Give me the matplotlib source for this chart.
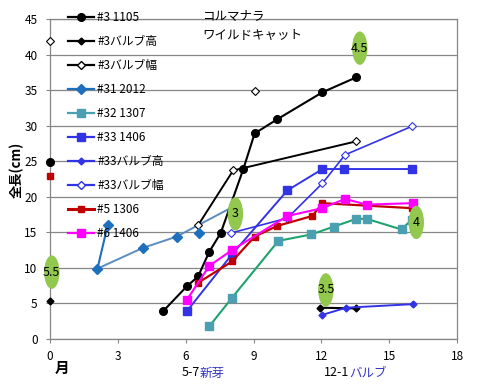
import matplotlib
matplotlib.use('Agg')
import matplotlib.pyplot as plt
from matplotlib.patches import Ellipse
from matplotlib.lines import Line2D
import numpy as np

plt.rcParams['font.family'] = ['Noto Sans CJK JP', 'DejaVu Sans']
plt.rcParams['font.size'] = 8.5

nan = np.nan

# 系列データ (月, 全長cm)
s3_1105_x = [0, nan, 5.0, 6.05, 6.55, 7.05, 7.55, 8.55, 9.05, 10.05, 12.05, 13.55]
s3_1105_y = [24.9, nan, 3.9, 7.4, 8.8, 12.3, 14.9, 23.9, 28.9, 30.9, 34.7, 36.8]

s3_bulb_h_x = [0, nan, 11.95, 13.55]
s3_bulb_h_y = [5.4, nan, 4.4, 4.3]

s3_bulb_w_x = [0, nan, 6.55, 8.1, 13.55, nan, 9.05]
s3_bulb_w_y = [41.9, nan, 16.0, 23.7, 27.8, nan, 34.9]

s31_x = [2.55, 2.1, nan, 4.1, nan, 5.6, nan, 6.6]
s31_y = [16.0, 9.9, nan, 12.8, nan, 14.4, nan, 14.9]
s31_trend_x = [2.1, 4.1, 5.6, 6.55, 8.1]
s31_trend_y = [9.9, 12.8, 14.4, 16.0, 18.6]

s32_x = [7.05, 8.05, 10.1, 11.55, 12.55, 13.55, 14.0, 15.55, 16.0]
s32_y = [1.8, 5.8, 13.8, 14.7, 15.8, 16.9, 16.9, 15.4, 16.8]

s33_1406_x = [6.05, 8.05, 10.5, 12.05, 13.0, 16.0]
s33_1406_y = [3.9, 11.9, 20.9, 23.9, 23.9, 23.9]

s33_bulb_h_x = [12.05, 13.1, 16.05]
s33_bulb_h_y = [3.4, 4.4, 4.9]

s33_bulb_w_x = [8.0, 10.5, 12.05, 13.05, 16.0]
s33_bulb_w_y = [14.9, 17.0, 21.9, 25.9, 29.9]

s5_x = [0, nan, 6.55, 8.05, 9.05, 10.05, 11.6, 12.05, 16.0]
s5_y = [22.9, nan, 7.9, 10.9, 14.4, 15.9, 17.3, 19.1, 18.4]

s6_x = [6.05, 7.05, 8.05, 10.5, 12.05, 13.05, 14.0, 16.05]
s6_y = [5.5, 10.3, 12.5, 17.3, 18.4, 19.7, 18.9, 19.1]

# 注記 (緑の楕円)
note_x = [0.08, 8.2, 13.7, 16.2, 12.2]
note_y = [9.4, 17.6, 40.9, 16.4, 6.9]
note_text = ['5.5', '3', '4.5', '4', '3.5']

x_ticks = [0, 3, 6, 9, 12, 15, 18]
y_ticks = [0, 5, 10, 15, 20, 25, 30, 35, 40, 45]

BLUE = '#3333e6'
fig = plt.figure(figsize=(4.78, 3.91), dpi=100)
ax = fig.add_axes([50 / 478, 52 / 391, 407 / 478, 320 / 391])

common = dict(clip_on=False, zorder=3)
ax.plot(s31_trend_x, s31_trend_y, color='#5b8cc0', lw=1.4, clip_on=False, zorder=2)
ax.plot(s3_1105_x, s3_1105_y, color='black', lw=1.5, marker='o', ms=5.5, **common)
ax.plot(s3_bulb_h_x, s3_bulb_h_y, color='black', lw=1.5, marker='D', ms=3.5, **common)
ax.plot(s3_bulb_w_x, s3_bulb_w_y, color='black', lw=1.4, marker='D', ms=4,
        mfc='white', mec='black', mew=0.8, **common)
ax.plot(s31_x, s31_y, color='#1f6fbf', lw=1.5, marker='D', ms=5, **common)
ax.plot(s32_x, s32_y, color='#1fa36e', lw=1.5, marker='s', ms=6,
        mfc='#4a9fb0', mec='#4a9fb0', **common)
ax.plot(s33_1406_x, s33_1406_y, color=BLUE, lw=1.4, marker='s', ms=6, **common)
ax.plot(s33_bulb_h_x, s33_bulb_h_y, color=BLUE, lw=1.4, marker='D', ms=3.5, **common)
ax.plot(s33_bulb_w_x, s33_bulb_w_y, color=BLUE, lw=1.2, marker='D', ms=4,
        mfc='white', mec=BLUE, mew=0.8, **common)
ax.plot(s5_x, s5_y, color='#c00000', lw=1.6, marker='s', ms=5, **common)
ax.plot(s6_x, s6_y, color='#ff00ff', lw=1.5, marker='s', ms=6, **common)

for x, y, t in zip(note_x, note_y, note_text):
    ax.add_patch(Ellipse((x, y), 0.68, 4.7, facecolor='#92c84e', edgecolor='none',
                         zorder=4, clip_on=False))
    ax.text(x, y, t, ha='center', va='center', fontsize=9, zorder=5)

ax.set_xlim(0, 18)
ax.set_ylim(0, 45)
ax.set_xticks(x_ticks)
ax.set_yticks(y_ticks)
ax.grid(axis='y', color='#868686', lw=0.9)
ax.set_axisbelow(True)
for sp in ax.spines.values():
    sp.set_color('#868686')
    sp.set_linewidth(0.9)
ax.tick_params(axis='both', colors='#868686', labelcolor='black', length=3,
               labelsize=8.5)
ax.tick_params(axis='x', pad=5)
ax.tick_params(axis='y', pad=6)

# 凡例
legend_items = [
    ('#3 1105', dict(color='black', marker='o', ms=5.5)),
    ('#3バルブ高', dict(color='black', marker='D', ms=3.5)),
    ('#3バルブ幅', dict(color='black', marker='D', ms=4, mfc='white')),
    ('#31 2012', dict(color='#1f6fbf', marker='D', ms=5)),
    ('#32 1307', dict(color='#4a9fb0', marker='s', ms=6)),
    ('#33 1406', dict(color=BLUE, marker='s', ms=6)),
    ('#33バルブ高', dict(color=BLUE, marker='D', ms=3.5)),
    ('#33バルブ幅', dict(color=BLUE, marker='D', ms=4, mfc='white')),
    ('#5 1306', dict(color='#c00000', marker='s', ms=5, lw=2.2)),
    ('#6 1406', dict(color='#ff00ff', marker='s', ms=6)),
]
handles = [Line2D([], [], lw=kw.pop('lw', 1.6), **kw) for _, kw in legend_items]
labels = [name for name, _ in legend_items]
fig.legend(handles, labels, loc='upper left', bbox_to_anchor=(62 / 478, 1 - 5 / 391),
           frameon=False, borderpad=0, labelspacing=0.93, handlelength=2.2,
           handletextpad=0.3, fontsize=8.5)

fig.text(202 / 478, 1 - 16 / 391, 'コルマナラ', ha='left', va='center', fontsize=9)
fig.text(202 / 478, 1 - 35 / 391, 'ワイルドキャット', ha='left', va='center', fontsize=9)

fig.text(17 / 478, 1 - 170 / 391, '全長(cm)', rotation=90, ha='center', va='center',
         fontsize=9.5, fontweight='bold')
fig.text(62 / 478, 1 - 368 / 391, '月', ha='center', va='center', fontsize=10.5,
         fontweight='bold')
fig.text(200 / 478, 1 - 373 / 391, '5-7', ha='right', va='center', fontsize=9)
fig.text(200 / 478, 1 - 373 / 391, '新芽', ha='left', va='center', fontsize=9,
         color='#3535c0')
fig.text(349 / 478, 1 - 373 / 391, '12-1', ha='right', va='center', fontsize=9)
fig.text(349 / 478, 1 - 373 / 391, 'バルブ', ha='left', va='center', fontsize=9,
         color='#3535c0')

fig.savefig('out.png', dpi=100)
